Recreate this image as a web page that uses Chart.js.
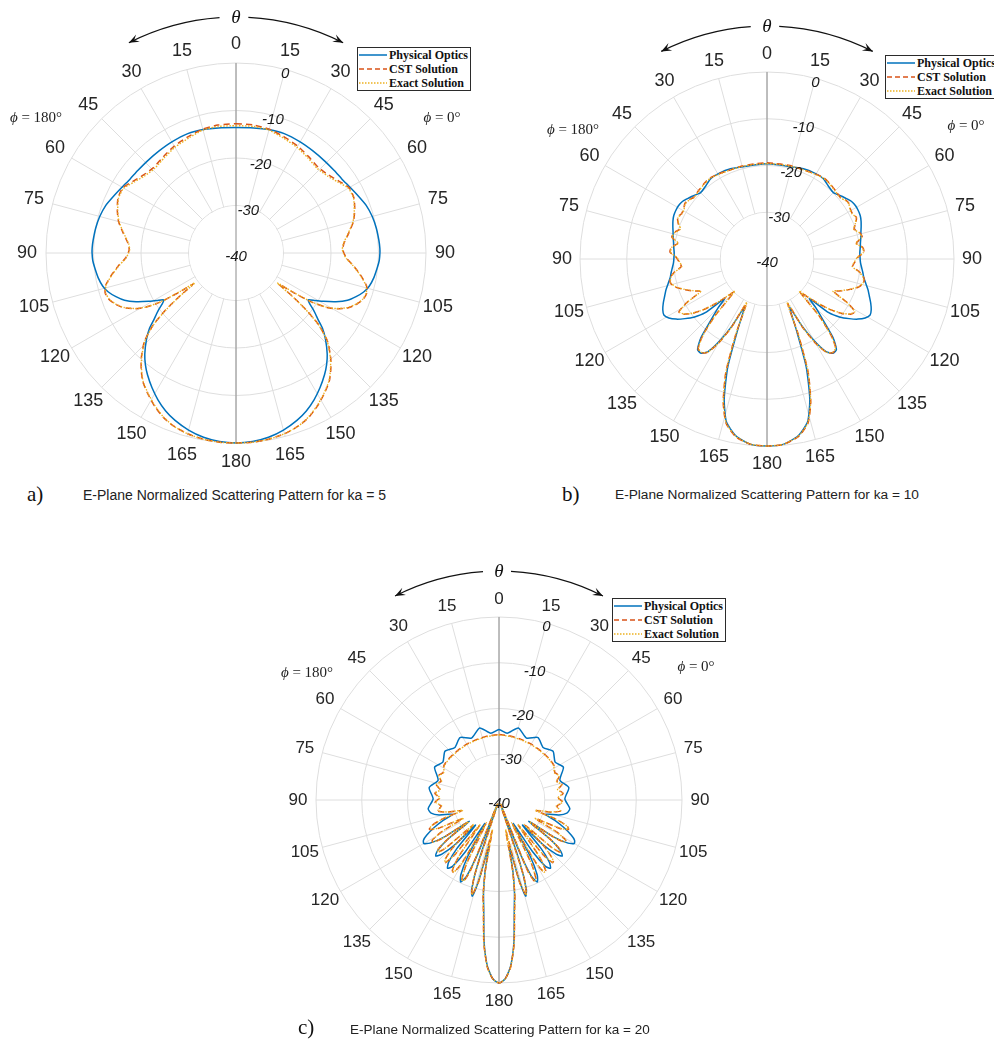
<!DOCTYPE html>
<html>
<head>
<meta charset="utf-8">
<script src="https://cdn.jsdelivr.net/npm/chart.js@4.4.1/dist/chart.umd.min.js"></script>
<style>
  body { margin: 0; width: 994px; height: 1039px; position: relative; overflow: hidden; background: #fff; }
  canvas { position: absolute; }
  .legend { position: absolute; box-sizing: border-box; width: 114px; height: 44px; border: 1.5px solid #2b2b2b; background: #fff;
            font: bold 12px "Liberation Serif", "Times New Roman", serif; color: #111; z-index: 5; }
  .legend div { height: 14px; display: flex; align-items: center; white-space: nowrap; }
  .legend svg { margin: 0 2px 0 1px; flex: none; }
  .tag { position: absolute; font: 21px "Liberation Serif", "Times New Roman", serif; color: #111; line-height: 1; }
  .cap { position: absolute; font-family: "Liberation Sans", Arial, sans-serif; color: #222; line-height: 1; white-space: nowrap; }
</style>
</head>
<body>

<canvas id="chartA" width="480" height="470" style="left:0;top:0"></canvas>
<canvas id="chartB" width="504" height="470" style="left:490px;top:0"></canvas>
<canvas id="chartC" width="500" height="490" style="left:250px;top:530px"></canvas>

<div class="legend" style="left:357px;top:47px"></div>
<div class="legend" style="left:885px;top:55px"></div>
<div class="legend" style="left:612px;top:598px"></div>

<div class="tag" style="left:27px;top:484px">a)</div>
<div class="cap" style="left:83px;top:488px;font-size:14px">E-Plane Normalized Scattering Pattern for ka = 5</div>
<div class="tag" style="left:562px;top:484px">b)</div>
<div class="cap" style="left:615px;top:488px;font-size:13.7px">E-Plane Normalized Scattering Pattern for ka = 10</div>
<div class="tag" style="left:298px;top:1017px">c)</div>
<div class="cap" style="left:350px;top:1023px;font-size:13.5px">E-Plane Normalized Scattering Pattern for ka = 20</div>

<script>
// angular grid: half-degree categories, theta measured from top, phi = 0 on the right
const STEP = 0.5;
const N = 720;
const thetaLabels = Array.from({ length: N }, (_, i) => i * STEP);
const angleTicks = [0, 15, 30, 45, 60, 75, 90, 105, 120, 135, 150, 165, 180];
const levelTicks = [-40, -30, -20, -10, 0];

const seriesNames = ["Physical Optics", "CST Solution", "Exact Solution"];
const seriesColors = ["#0072BD", "#D95319", "#EDB120"];

// ---------------- ka = 5 ----------------
const aTheta = [0, 8, 15, 22, 30, 37, 44, 50, 55, 60, 65, 70, 75, 80, 85, 88, 90, 93, 96, 100,
  104, 107, 110, 113, 116, 119, 121, 123, 124.5, 126, 127.5, 129, 131, 134, 138, 141, 144, 148, 152, 156,
  160, 165, 170, 175, 180];
const aPO = [-13.6, -13.4, -13.1, -12.9, -13.0, -13.1, -13.1, -13.0, -12.8, -12.3,
  -11.6, -10.8, -10.3, -10.0, -9.8, -9.7, -9.7, -9.8, -10.1, -10.5,
  -11.1, -11.9, -13.1, -14.5, -16.6, -19.0, -20.6, -21.9, -21.2, -20.0,
  -18.9, -17.8, -15.9, -13.8, -11.3, -9.7, -8.3, -6.6, -5.0, -3.6,
  -2.5, -1.4, -0.6, -0.15, 0];
const aCST = [-12.8, -12.8, -13.0, -13.5, -14.0, -14.6, -15.0, -14.5, -13.6, -12.5,
  -12.6, -13.4, -14.4, -15.9, -17.2, -17.5, -17.3, -16.6, -15.2, -13.4,
  -11.7, -11.2, -11.5, -12.4, -13.7, -15.8, -17.8, -21.0, -25.2, -28.8,
  -25.0, -21.0, -16.9, -13.2, -10.2, -8.3, -6.6, -5.0, -3.5, -2.2,
  -1.3, -0.6, -0.2, 0, 0];
const aExact = [-13.2, -13.1, -13.2, -13.8, -14.3, -14.9, -15.3, -14.8, -13.9, -12.7,
  -12.7, -13.5, -14.5, -16.0, -17.3, -17.6, -17.4, -16.7, -15.3, -13.5,
  -11.8, -11.3, -11.6, -12.5, -13.8, -15.9, -17.9, -21.2, -25.6, -29.3,
  -25.3, -21.2, -17.0, -13.3, -10.3, -8.4, -6.7, -5.1, -3.6, -2.3,
  -1.3, -0.6, -0.2, 0, 0];

// ---------------- ka = 10 ----------------
const bTheta = [0, 8, 15, 22, 29, 35, 40, 45, 50, 53, 56, 59, 62, 65, 68, 71, 74, 77, 80, 83,
  86, 89, 92, 95, 98, 101, 104, 107, 110, 113, 116, 118.5, 121, 123.5, 126, 128.5, 131, 133, 135, 137.5,
  140, 142.5, 145, 147.5, 150, 152.5, 155, 157.5, 160, 163, 166, 170, 175, 180];
const bPO = [-19.6, -19.7, -19.6, -19.2, -19.0, -19.0, -19.6, -19.9, -19.1, -18.6,
  -18.1, -17.9, -17.9, -18.0, -18.3, -18.7, -19.1, -19.4, -19.7, -19.9,
  -20.1, -20.1, -20.0, -19.7, -19.3, -18.9, -18.2, -17.4, -16.7, -15.9,
  -15.2, -14.9, -15.5, -16.7, -18.3, -20.0, -22.5, -27.6, -25.2, -22.2,
  -18.0, -15.6, -15.4, -16.5, -19.8, -24.0, -28.5, -23.6, -15.5, -8.7,
  -4.1, -1.6, -0.2, 0];
const bCST = [-19.4, -19.5, -19.4, -19.4, -19.1, -18.8, -19.0, -19.3, -19.5, -19.0,
  -18.8, -19.2, -19.3, -18.9, -19.5, -20.3, -19.4, -19.1, -20.6, -19.4,
  -19.2, -20.6, -21.2, -21.6, -20.0, -18.9, -18.7, -19.5, -21.0, -22.6,
  -24.1, -20.5, -18.0, -18.6, -20.2, -22.5, -25.4, -28.0, -30.0, -23.5,
  -18.6, -15.8, -15.5, -16.3, -19.2, -23.5, -29.5, -22.5, -14.3, -8.0,
  -3.8, -1.4, -0.2, 0];
const bExact = [-19.6, -19.6, -19.5, -19.4, -19.2, -18.9, -19.1, -19.4, -19.6, -19.1,
  -18.9, -19.3, -19.4, -19.0, -19.6, -20.4, -19.5, -19.2, -20.7, -19.5,
  -19.3, -20.7, -21.3, -21.7, -20.1, -19.0, -18.8, -19.6, -21.1, -22.7,
  -24.3, -20.6, -18.1, -18.7, -20.3, -22.6, -25.6, -28.3, -30.3, -23.7,
  -18.7, -15.9, -15.6, -16.4, -19.3, -23.7, -29.8, -22.6, -14.4, -8.1,
  -3.9, -1.5, -0.2, 0];

// ---------------- ka = 20 ----------------
const cThetaPO = [0, 7, 15, 24, 32, 40, 48, 56, 63, 72, 80, 89, 97, 101, 104, 107, 110, 113, 116, 118,
  120, 122, 124, 125.5, 127.5, 129.5, 131.5, 133.5, 135.5, 137, 139, 141, 143, 145, 147, 149, 151, 153, 155, 157,
  158.5, 160, 161.5, 163, 164.5, 166, 167.5, 169, 170.5, 172, 174, 176, 178, 180];
const cPO = [-24.6, -25.3, -23.7, -25.2, -23.9, -25.0, -24.1, -25.2, -24.2, -26.0,
  -24.5, -25.6, -24.4, -24.9, -26.5, -29.4, -27.0, -24.6, -22.4, -21.3,
  -21.0, -22.2, -25.5, -32.0, -25.8, -22.6, -21.5, -22.8, -26.5, -32.5,
  -26.0, -22.5, -21.3, -22.3, -26.5, -34.0, -26.0, -21.6, -20.2, -22.0,
  -28.0, -39.0, -26.0, -19.5, -18.2, -22.5, -29.8, -24.0, -19.5, -16.0,
  -8.8, -3.6, -0.9, 0];
const cThetaFW = [0, 10, 20, 30, 40, 50, 58, 64, 68, 72, 76, 80, 84, 88, 92, 96, 100, 103, 106, 108.5,
  111, 113, 115, 117, 119, 121, 122.5, 124, 125.5, 127.5, 129, 130.5, 132, 134, 136, 138, 139.5, 141, 142.5, 144.5,
  146.5, 148, 149.5, 151, 153, 155, 156.5, 158, 160, 162, 164, 166, 167.5, 169, 170.5, 172, 174, 176, 178, 180];
const cCST = [-25.7, -25.8, -25.9, -25.9, -25.9, -25.8, -25.8, -26.4, -25.7, -26.7,
  -25.8, -26.9, -25.9, -27.0, -26.0, -27.3, -26.3, -28.2, -31.5, -27.0,
  -24.0, -23.5, -25.3, -31.0, -25.6, -23.0, -22.8, -24.8, -31.5, -25.6,
  -22.8, -22.4, -24.3, -32.0, -25.2, -22.2, -22.0, -24.4, -33.0, -24.8,
  -21.5, -21.3, -23.8, -34.0, -24.3, -20.8, -20.6, -23.5, -39.0, -22.5,
  -18.3, -21.5, -33.0, -24.5, -19.0, -15.5, -8.4, -3.4, -0.9, 0];
const cExact = [-25.8, -25.9, -26.0, -26.0, -26.0, -25.9, -25.9, -26.5, -25.8, -26.8,
  -25.9, -27.0, -26.0, -27.1, -26.1, -27.4, -26.4, -28.4, -31.8, -27.1,
  -24.1, -23.6, -25.5, -31.3, -25.7, -23.1, -22.9, -25.0, -31.8, -25.7,
  -22.9, -22.5, -24.5, -32.3, -25.3, -22.3, -22.1, -24.6, -33.3, -24.9,
  -21.6, -21.4, -24.0, -34.3, -24.4, -20.9, -20.7, -23.7, -39.2, -22.6,
  -18.4, -21.7, -33.4, -24.6, -19.1, -15.6, -8.5, -3.4, -0.9, 0];

// ---------------- helpers ----------------
// put the theta cut on both halves (phi = 0 right, phi = 180 left)
function mirror(theta, vals) {
  const d = new Array(N).fill(null);
  theta.forEach((t, k) => {
    const i = Math.round(t / STEP);
    d[i % N] = vals[k];
    d[(N - i) % N] = vals[k];
  });
  return d;
}

function legendHtml() {
  const dash = ["", "5,3", "1.5,1.5"];
  return seriesNames.map((name, k) =>
    `<div><svg width="28" height="6"><line x1="0" y1="3" x2="28" y2="3" stroke="${seriesColors[k]}" stroke-width="1.5"` +
    (dash[k] ? ` stroke-dasharray="${dash[k]}"` : "") + `/></svg>${name}</div>`).join("");
}
document.querySelectorAll(".legend").forEach(el => el.innerHTML = legendHtml());

function arcArrow(ctx, cx, cy, r, from, to) {
  const a0 = (from - 90) * Math.PI / 180;
  const a1 = (to - 90) * Math.PI / 180;
  ctx.beginPath();
  ctx.arc(cx, cy, r, a0, a1, to < from);
  ctx.stroke();
  const ex = cx + r * Math.cos(a1), ey = cy + r * Math.sin(a1);
  const dir = to > from ? 1 : -1;
  const tx = -Math.sin(a1) * dir, ty = Math.cos(a1) * dir;
  const L = 11, w = 0.38;
  const rot = (x, y, a) => [x * Math.cos(a) - y * Math.sin(a), x * Math.sin(a) + y * Math.cos(a)];
  const [b1x, b1y] = rot(-tx, -ty, w);
  const [b2x, b2y] = rot(-tx, -ty, -w);
  ctx.beginPath();
  ctx.moveTo(ex + b1x * L, ey + b1y * L);
  ctx.lineTo(ex, ey);
  ctx.lineTo(ex + b2x * L, ey + b2y * L);
  ctx.lineTo(ex - tx * 6, ey - ty * 6);
  ctx.closePath();
  ctx.fill();
}

function phiText(ctx, x, y, rest) {
  ctx.font = 'italic 15px "Liberation Serif", "Times New Roman", serif';
  const w1 = ctx.measureText("\u03D5").width;
  ctx.font = '15px "Liberation Serif", "Times New Roman", serif';
  const w2 = ctx.measureText(rest).width;
  const x0 = x - (w1 + w2) / 2;
  ctx.textAlign = "left";
  ctx.font = 'italic 15px "Liberation Serif", "Times New Roman", serif';
  ctx.fillText("\u03D5", x0, y);
  ctx.font = '15px "Liberation Serif", "Times New Roman", serif';
  ctx.fillText(rest, x0 + w1, y);
}

// ---------------- decorations drawn on the radial scale ----------------
const polarDecor = {
  id: "polarDecor",
  beforeDatasetsDraw(chart) {
    const s = chart.scales.r, ctx = chart.ctx;
    const cx = s.xCenter, cy = s.yCenter, R = s.drawingArea;
    ctx.save();
    // spokes start at the -30 ring
    ctx.fillStyle = "#fff";
    ctx.beginPath();
    ctx.arc(cx, cy, s.getDistanceFromCenterForValue(-30) - 0.6, 0, Math.PI * 2);
    ctx.fill();
    ctx.strokeStyle = "#8c8c8c";
    ctx.lineWidth = 1;
    ctx.beginPath();
    ctx.moveTo(cx, cy - R);
    ctx.lineTo(cx, cy + R);
    ctx.stroke();
    ctx.restore();
  },
  afterDraw(chart, args, opts) {
    const s = chart.scales.r, ctx = chart.ctx;
    const cx = s.xCenter, cy = s.yCenter, R = s.drawingArea;
    ctx.save();
    ctx.fillStyle = "#262626";
    ctx.textAlign = "center";
    ctx.textBaseline = "middle";

    // theta labels
    ctx.font = `${opts.labelSize}px "Liberation Sans", Arial, sans-serif`;
    const done = new Set();
    angleTicks.forEach(t => {
      [t, 360 - t].forEach(deg => {
        const idx = Math.round(deg / STEP) % N;
        if (done.has(idx)) return;
        done.add(idx);
        const p = s.getPointPosition(idx, R + opts.labelGap);
        ctx.fillText(String(t), p.x, p.y);
      });
    });

    // level labels along the 15 degree spoke
    ctx.font = 'italic 15px "Liberation Sans", Arial, sans-serif';
    ctx.fillStyle = "#1a1a1a";
    levelTicks.forEach(v => {
      const p = s.getPointPosition(Math.round(15 / STEP), s.getDistanceFromCenterForValue(v));
      ctx.fillText(String(v), p.x, p.y + 4);
    });

    // theta arrows
    const ra = R + 46;
    ctx.strokeStyle = "#111";
    ctx.fillStyle = "#111";
    ctx.lineWidth = 1.2;
    arcArrow(ctx, cx, cy, ra, 3, 27);
    arcArrow(ctx, cx, cy, ra, -4, -27);
    ctx.font = 'italic 19px "Liberation Serif", "Times New Roman", serif';
    ctx.textAlign = "center";
    ctx.fillText("\u03B8", cx, cy - ra + 1);

    // phi annotations
    ctx.fillStyle = "#222";
    phiText(ctx, cx + opts.phiL[0], cy + opts.phiL[1], " = 180\u00B0");
    phiText(ctx, cx + opts.phiR[0], cy + opts.phiR[1], " = 0\u00B0");
    ctx.restore();
  }
};

function makePolar(id, pad, sets, decor) {
  const styles = [
    { borderWidth: 1.5, borderDash: [], order: 3 },
    { borderWidth: 1.5, borderDash: [6, 4], order: 2 },
    { borderWidth: 1.4, borderDash: [1.5, 1.5], order: 1 }
  ];
  return new Chart(document.getElementById(id), {
    type: "radar",
    data: {
      labels: thetaLabels,
      datasets: sets.map((d, k) => Object.assign({
        label: seriesNames[k],
        data: d,
        borderColor: seriesColors[k],
        backgroundColor: "transparent",
        fill: false,
        pointRadius: 0,
        pointHoverRadius: 0,
        spanGaps: true,
        tension: 0.2
      }, styles[k]))
    },
    options: {
      responsive: false,
      animation: false,
      layout: { padding: pad },
      plugins: {
        legend: { display: false },
        tooltip: { enabled: false },
        polarDecor: decor
      },
      scales: {
        r: {
          min: -40,
          max: 0,
          ticks: { display: false, stepSize: 10 },
          pointLabels: { display: false },
          grid: { circular: true, color: "#dedede", lineWidth: 1 },
          angleLines: {
            color: "#dedede",
            lineWidth: c => (c.index % Math.round(15 / STEP) === 0 ? 1 : 0)
          }
        }
      }
    },
    plugins: [polarDecor]
  });
}

makePolar("chartA", { left: 46, right: 54, top: 63, bottom: 27 },
  [mirror(aTheta, aPO), mirror(aTheta, aCST), mirror(aTheta, aExact)],
  { labelSize: 18, labelGap: 19, phiL: [-200, -135], phiR: [206, -135] });

makePolar("chartB", { left: 90, right: 40, top: 72, bottom: 24 },
  [mirror(bTheta, bPO), mirror(bTheta, bCST), mirror(bTheta, bExact)],
  { labelSize: 18, labelGap: 18, phiL: [-194, -129], phiR: [199, -133] });

makePolar("chartC", { left: 66, right: 68, top: 87, bottom: 37 },
  [mirror(cThetaPO, cPO), mirror(cThetaFW, cCST), mirror(cThetaFW, cExact)],
  { labelSize: 17, labelGap: 18, phiL: [-192, -127], phiR: [197, -133] });
</script>
</body>
</html>
